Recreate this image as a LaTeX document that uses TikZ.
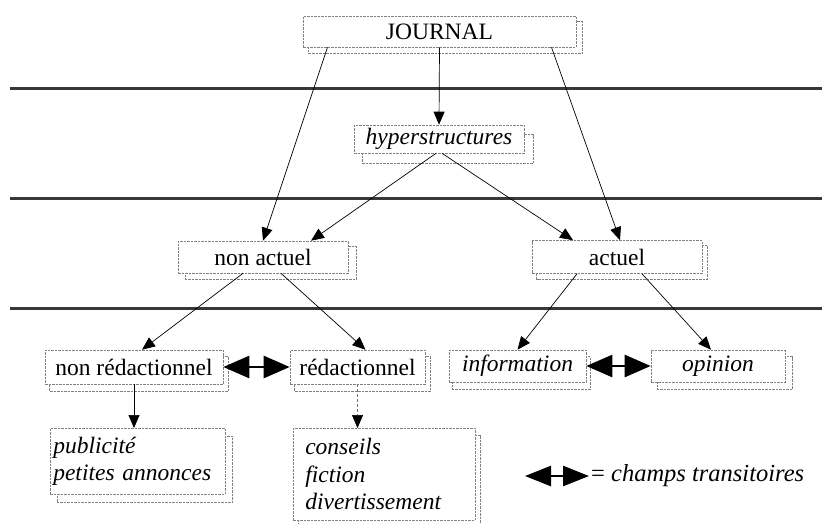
\documentclass[tikz,border=0pt]{standalone}
\usepackage{fontspec}
\setmainfont{Liberation Serif}
\usetikzlibrary{arrows.meta}
\pgfdeclarelayer{background}
\pgfsetlayers{background,main}
\tikzset{
  boxline/.style={draw=black!50, line width=0.6pt, dash pattern=on 2.5pt off 1pt},
  box/.style={boxline, fill=white, inner sep=0pt, font=\fontsize{23.5}{27.5}\selectfont},
  arr/.style={line width=0.7pt, -{Triangle[length=13pt,width=11pt]}},
  dotarr/.style={line width=0.5pt, draw=black!55, dash pattern=on 3pt off 2pt, -{Triangle[length=13pt,width=11pt,color=black]}},
  darr/.style={line width=2.6pt, {Triangle[length=26pt,width=22pt]}-{Triangle[length=26pt,width=22pt]}},
  sepline/.style={line width=3pt, draw=black!78},
}
\newcommand{\shadowof}[3]{%
  \begin{pgfonlayer}{background}
    \draw[boxline] ([shift={(#2,#3)}]#1.north west) rectangle ([shift={(#2,#3)}]#1.south east);
  \end{pgfonlayer}}
\begin{document}
\begin{tikzpicture}[x=1pt,y=-1pt]
\useasboundingbox (0,0) rectangle (822,523);
\clip (0,0) rectangle (822,523);

% separator lines
\draw[sepline] (10,88) -- (822,88);
\draw[sepline] (10,198) -- (822,198);
\draw[sepline] (10,308) -- (822,308);

% boxes
\node[box, minimum width=273pt, minimum height=31pt] (J) at (439.5,31.5) {JOURNAL};
\node[box, minimum width=170pt, minimum height=28pt] (H) at (439,139) {\itshape hyperstructures};
\node[box, minimum width=170pt, minimum height=32pt] (NA) at (263,257) {non actuel};
\node[box, minimum width=170pt, minimum height=33pt] (A) at (617,257) {actuel};
\node[box, minimum width=178pt, minimum height=34pt] (NR) at (134,367) {non rédactionnel};
\node[box, minimum width=135pt, minimum height=34pt] (R) at (357.5,367) {rédactionnel};
\node[box, minimum width=137pt, minimum height=32pt] (I) at (517.5,366) {\itshape information};
\node[box, minimum width=134pt, minimum height=32pt] (O) at (718,366) {\itshape opinion};
\node[box, anchor=north west, minimum width=175pt, minimum height=66pt, text width=169pt, inner xsep=3pt, align=left] (P) at (50,428) {\itshape publicité\\petites annonces};
\node[box, anchor=north west, minimum width=170pt, minimum height=92pt, text width=158pt, inner xsep=12pt, align=left] (C) at (293,428) {\itshape conseils\\fiction\\divertissement};

% shadows
\shadowof{J}{6}{6}
\shadowof{H}{9}{10}
\shadowof{NA}{8}{6}
\shadowof{A}{5}{5}
\shadowof{NR}{5}{7}
\shadowof{R}{5}{7}
\shadowof{I}{4}{7}
\shadowof{O}{7}{7}
\shadowof{P}{7}{8}
\shadowof{C}{5}{7}

% arrows
\draw[arr] (J.south) -- (H.north);
\draw[arr] ([xshift=-112pt]J.south) -- (NA.north);
\draw[arr] ([xshift=112pt]J.south) -- ([xshift=3pt]A.north);
\draw[arr] ([xshift=-3pt]H.south) -- ([xshift=48pt]NA.north);
\draw[arr] ([xshift=3pt]H.south) -- ([xshift=-44pt]A.north);
\draw[arr] ([xshift=-20pt]NA.south) -- ([xshift=8pt]NR.north);
\draw[arr] ([xshift=18pt]NA.south) -- ([xshift=8pt]R.north);
\draw[arr] ([xshift=-40pt]A.south) -- (I.north);
\draw[arr] ([xshift=25pt]A.south) -- ([xshift=-7pt]O.north);
\draw[arr] (NR.south) -- (NR.south |- P.north);
\draw[dotarr] (R.south) -- (R.south |- C.north);

% transitional fields
\draw[darr] (NR.east) -- (R.west);
\draw[darr] (I.east) -- (O.west);

% legend
\coordinate (L1) at (525,476);
\coordinate (L2) at (589,476);
\draw[line width=2.6pt, {Triangle[length=26pt,width=20pt]}-{Triangle[length=26pt,width=20pt]}] (L1) -- (L2);
\node[anchor=west, inner sep=0pt, font=\fontsize{24.5}{28}\selectfont] (LT) at (591,476) {= \itshape champs transitoires};
\end{tikzpicture}
\end{document}
